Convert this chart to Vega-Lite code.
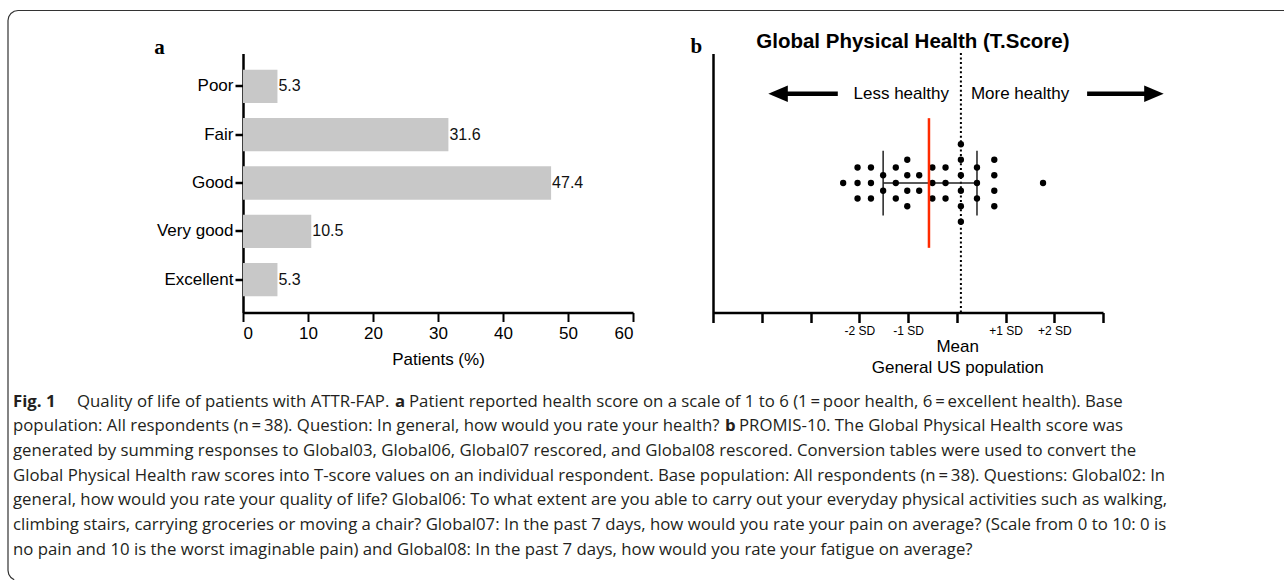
{
  "$schema": "https://vega.github.io/schema/vega-lite/v6.json",
  "padding": {"left": 5, "top": 7.5, "right": 0, "bottom": 0},
  "background": "white",
  "bounds": "flush",
  "columns": 2,
  "spacing": {"row": 89, "column": 80},
  "config": {
    "view": {"stroke": null},
    "font": "Liberation Sans",
    "axis": {"domainColor": "black", "tickColor": "black", "labelColor": "black", "titleColor": "black", "labelFont": "Liberation Sans", "titleFont": "Liberation Sans", "grid": false},
    "text": {"font": "Liberation Sans"}
  },
  "datasets": {
    "health": [
      {"rating": "Poor", "pct": 5.3},
      {"rating": "Fair", "pct": 31.6},
      {"rating": "Good", "pct": 47.4},
      {"rating": "Very good", "pct": 10.5},
      {"rating": "Excellent", "pct": 5.3}
    ],
    "panelA": [{"label": "a", "pct": -12.85, "pos": 1.023}],
    "dots": [
      {"t": 26.7, "y": 0},
      {"t": 29.65, "y": 2}, {"t": 29.65, "y": 0}, {"t": 29.65, "y": -2},
      {"t": 32.4, "y": 2}, {"t": 32.4, "y": 0}, {"t": 32.4, "y": -2},
      {"t": 34.9, "y": 1}, {"t": 34.9, "y": -1},
      {"t": 37.5, "y": 2}, {"t": 37.5, "y": 0}, {"t": 37.5, "y": -2},
      {"t": 39.85, "y": 3}, {"t": 39.85, "y": 1}, {"t": 39.85, "y": -1}, {"t": 39.85, "y": -3},
      {"t": 42.3, "y": 1}, {"t": 42.3, "y": -1},
      {"t": 45.0, "y": 2}, {"t": 45.0, "y": 0}, {"t": 45.0, "y": -2},
      {"t": 47.7, "y": 2}, {"t": 47.7, "y": 0}, {"t": 47.7, "y": -2},
      {"t": 50.85, "y": 5}, {"t": 50.85, "y": 3}, {"t": 50.85, "y": 1}, {"t": 50.85, "y": -1}, {"t": 50.85, "y": -3}, {"t": 50.85, "y": -5},
      {"t": 54.15, "y": 2}, {"t": 54.15, "y": 0}, {"t": 54.15, "y": -2},
      {"t": 57.7, "y": 3}, {"t": 57.7, "y": 1}, {"t": 57.7, "y": -1}, {"t": 57.7, "y": -3},
      {"t": 67.7, "y": 0}
    ],
    "refline": [{"t": 50.85, "y": -16.7, "y2": 16.9}],
    "sdbars": [
      {"t": 34.9, "y": -4.2, "y2": 4.15},
      {"t": 54.15, "y": -4.2, "y2": 4.15}
    ],
    "sdspan": [{"t": 34.9, "t2": 54.15, "y": 0}],
    "meanline": [{"t": 44.3, "y": -8.36, "y2": 8.36}],
    "shafts": [
      {"t": 14.5, "t2": 25.6, "y": 11.5},
      {"t": 76.74, "t2": 89.5, "y": 11.5}
    ],
    "heads": [
      {"t": 13.35, "y": 11.5, "dir": "left"},
      {"t": 90.45, "y": 11.5, "dir": "right"}
    ],
    "btexts": [
      {"kind": "right", "label": "Less healthy", "t": 48.4, "y": 11.5},
      {"kind": "left", "label": "More healthy", "t": 52.9, "y": 11.5},
      {"kind": "center", "label": "Mean", "t": 50.2, "y": -21.1},
      {"kind": "center", "label": "General US population", "t": 50.2, "y": -23.8},
      {"kind": "title", "label": "Global Physical Health (T.Score)", "t": 41.0, "y": 18.2},
      {"kind": "panel", "label": "b", "t": -3.4, "y": 17.5}
    ],
    "caption": [
      {"line": 0, "x": -230, "bold": true, "s": "Fig. 1"},
      {"line": 0, "x": -166, "bold": false, "s": "Quality of life of patients with ATTR-FAP."},
      {"line": 0, "x": 152, "bold": true, "s": "a"},
      {"line": 0, "x": 166, "bold": false, "s": "Patient reported health score on a scale of 1 to 6 (1\u2009=\u2009poor health, 6\u2009=\u2009excellent health). Base"},
      {"line": 1, "x": -230, "bold": false, "s": "population: All respondents (n\u2009=\u200938). Question: In general, how would you rate your health?"},
      {"line": 1, "x": 482, "bold": true, "s": "b"},
      {"line": 1, "x": 496, "bold": false, "s": "PROMIS-10. The Global Physical Health score was"},
      {"line": 2, "x": -230, "bold": false, "s": "generated by summing responses to Global03, Global06, Global07 rescored, and Global08 rescored. Conversion tables were used to convert the"},
      {"line": 3, "x": -230, "bold": false, "s": "Global Physical Health raw scores into T-score values on an individual respondent. Base population: All respondents (n\u2009=\u200938). Questions: Global02: In"},
      {"line": 4, "x": -230, "bold": false, "s": "general, how would you rate your quality of life? Global06: To what extent are you able to carry out your everyday physical activities such as walking,"},
      {"line": 5, "x": -230, "bold": false, "s": "climbing stairs, carrying groceries or moving a chair? Global07: In the past 7 days, how would you rate your pain on average? (Scale from 0 to 10: 0 is"},
      {"line": 6, "x": -230, "bold": false, "s": "no pain and 10 is the worst imaginable pain) and Global08: In the past 7 days, how would you rate your fatigue on average?"}
    ],
    "frame": [
      {"i": 0, "x": 1041, "line": -15.851},
      {"i": 1, "x": -225, "line": -15.851},
      {"i": 2, "x": -228.83, "line": -15.82},
      {"i": 3, "x": -232.07, "line": -15.732},
      {"i": 4, "x": -234.24, "line": -15.601},
      {"i": 5, "x": -235, "line": -15.446},
      {"i": 6, "x": -235, "line": 6.851},
      {"i": 7, "x": -234.24, "line": 7.006},
      {"i": 8, "x": -232.07, "line": 7.137},
      {"i": 9, "x": -228.83, "line": 7.225}
    ]
  },
  "concat": [
    {
      "width": 390,
      "height": 259,
      "resolve": {"scale": {"y": "independent"}, "axis": {"y": "independent"}},
      "layer": [
        {
          "data": {"name": "health"},
          "encoding": {
            "y": {"field": "rating", "type": "nominal", "sort": null, "scale": {"paddingInner": 0.31, "paddingOuter": 0.336},
              "axis": {"title": null, "domainWidth": 2.5, "tickWidth": 2.5, "tickSize": 8, "labelFontSize": 17, "labelPadding": 2}},
            "x": {"field": "pct", "type": "quantitative", "scale": {"domain": [0, 60], "nice": false},
              "axis": {"title": "Patients (%)", "values": [0, 10, 20, 30, 40, 50, 60], "domainWidth": 2.5, "tickWidth": 2, "tickSize": 9, "labelFontSize": 17, "labelPadding": 4, "labelOverlap": false, "titleFontSize": 17, "titleFontWeight": "normal", "titlePadding": 10}}
          },
          "layer": [
            {"mark": {"type": "bar", "color": "#c8c8c8"}},
            {"mark": {"type": "text", "align": "left", "baseline": "middle", "dx": 1, "fontSize": 16, "color": "#111"}, "encoding": {"text": {"field": "pct", "type": "quantitative", "format": ".1f"}}}
          ]
        },
        {
          "data": {"name": "panelA"},
          "mark": {"type": "text", "align": "center", "baseline": "middle", "font": "Liberation Serif", "fontSize": 21, "fontWeight": "bold", "color": "black"},
          "encoding": {
            "x": {"field": "pct", "type": "quantitative"},
            "y": {"field": "pos", "type": "quantitative", "scale": {"domain": [0, 1], "nice": false, "zero": false}, "axis": null},
            "text": {"field": "label"}
          }
        }
      ]
    },
    {
      "width": 390,
      "height": 259,
      "encoding": {
        "x": {"field": "t", "type": "quantitative", "scale": {"domain": [0, 80], "nice": false, "zero": false},
          "axis": {"title": null, "values": [0, 10, 20, 30, 40, 50, 60, 70, 80], "labelExpr": "datum.value==30?'-2 SD':datum.value==40?'-1 SD':datum.value==60?'+1 SD':datum.value==70?'+2 SD':''", "domainWidth": 2.5, "tickWidth": 2.5, "tickSize": 10, "labelFontSize": 12, "labelPadding": 3, "labelOverlap": false}},
        "y": {"field": "y", "type": "quantitative", "scale": {"domain": [-16.7, 16.7], "nice": false, "zero": false},
          "axis": {"title": null, "ticks": false, "labels": false, "domainWidth": 2.5}}
      },
      "layer": [
        {"data": {"name": "refline"}, "mark": {"type": "rule", "color": "black", "strokeWidth": 2, "strokeDash": [2, 2.6]}, "encoding": {"y2": {"field": "y2"}}},
        {"data": {"name": "sdbars"}, "mark": {"type": "rule", "color": "#222", "strokeWidth": 1.5}, "encoding": {"y2": {"field": "y2"}}},
        {"data": {"name": "sdspan"}, "mark": {"type": "rule", "color": "#222", "strokeWidth": 1.5}, "encoding": {"x2": {"field": "t2"}}},
        {"data": {"name": "dots"}, "mark": {"type": "circle", "size": 40, "color": "black", "opacity": 1}},
        {"data": {"name": "meanline"}, "mark": {"type": "rule", "color": "#ff2a00", "strokeWidth": 2.5}, "encoding": {"y2": {"field": "y2"}}},
        {"data": {"name": "shafts"}, "mark": {"type": "rule", "color": "black", "strokeWidth": 4.5}, "encoding": {"x2": {"field": "t2"}}},
        {"data": {"name": "heads"}, "mark": {"type": "point", "filled": true, "color": "black", "opacity": 1, "size": 380},
          "encoding": {"shape": {"field": "dir", "type": "nominal", "scale": {"domain": ["left", "right"], "range": ["M-1,0L1,-0.85L1,0.85Z", "M1,0L-1,-0.85L-1,0.85Z"]}, "legend": null}}},
        {"data": {"name": "btexts"}, "transform": [{"filter": "datum.kind=='right'"}], "mark": {"type": "text", "align": "right", "baseline": "middle", "fontSize": 17, "color": "black"}, "encoding": {"text": {"field": "label"}}},
        {"data": {"name": "btexts"}, "transform": [{"filter": "datum.kind=='left'"}], "mark": {"type": "text", "align": "left", "baseline": "middle", "fontSize": 17, "color": "black"}, "encoding": {"text": {"field": "label"}}},
        {"data": {"name": "btexts"}, "transform": [{"filter": "datum.kind=='center'"}], "mark": {"type": "text", "align": "center", "baseline": "middle", "fontSize": 17, "color": "black"}, "encoding": {"text": {"field": "label"}}},
        {"data": {"name": "btexts"}, "transform": [{"filter": "datum.kind=='title'"}], "mark": {"type": "text", "align": "center", "baseline": "middle", "fontSize": 20.5, "fontWeight": "bold", "color": "black"}, "encoding": {"text": {"field": "label"}}},
        {"data": {"name": "btexts"}, "transform": [{"filter": "datum.kind=='panel'"}], "mark": {"type": "text", "align": "center", "baseline": "middle", "font": "Liberation Serif", "fontSize": 21, "fontWeight": "bold", "color": "black"}, "encoding": {"text": {"field": "label"}}}
      ]
    },
    {
      "width": 390,
      "height": 148,
      "encoding": {
        "x": {"field": "x", "type": "quantitative", "scale": {"domain": [0, 390], "nice": false, "zero": false}, "axis": null},
        "y": {"field": "line", "type": "quantitative", "scale": {"domain": [0, 6], "nice": false, "zero": false, "reverse": true}, "axis": null}
      },
      "layer": [
        {"data": {"name": "frame"}, "mark": {"type": "line", "color": "#333", "strokeWidth": 1.2}, "encoding": {"order": {"field": "i", "type": "quantitative"}}},
        {"data": {"name": "caption"}, "transform": [{"filter": "!datum.bold"}], "mark": {"type": "text", "align": "left", "baseline": "middle", "font": "Open Sans", "fontSize": 16.8, "color": "#231f20"}, "encoding": {"text": {"field": "s"}}},
        {"data": {"name": "caption"}, "transform": [{"filter": "datum.bold"}], "mark": {"type": "text", "align": "left", "baseline": "middle", "font": "Open Sans", "fontSize": 16.8, "fontWeight": "bold", "color": "#231f20"}, "encoding": {"text": {"field": "s"}}}
      ]
    }
  ]
}
